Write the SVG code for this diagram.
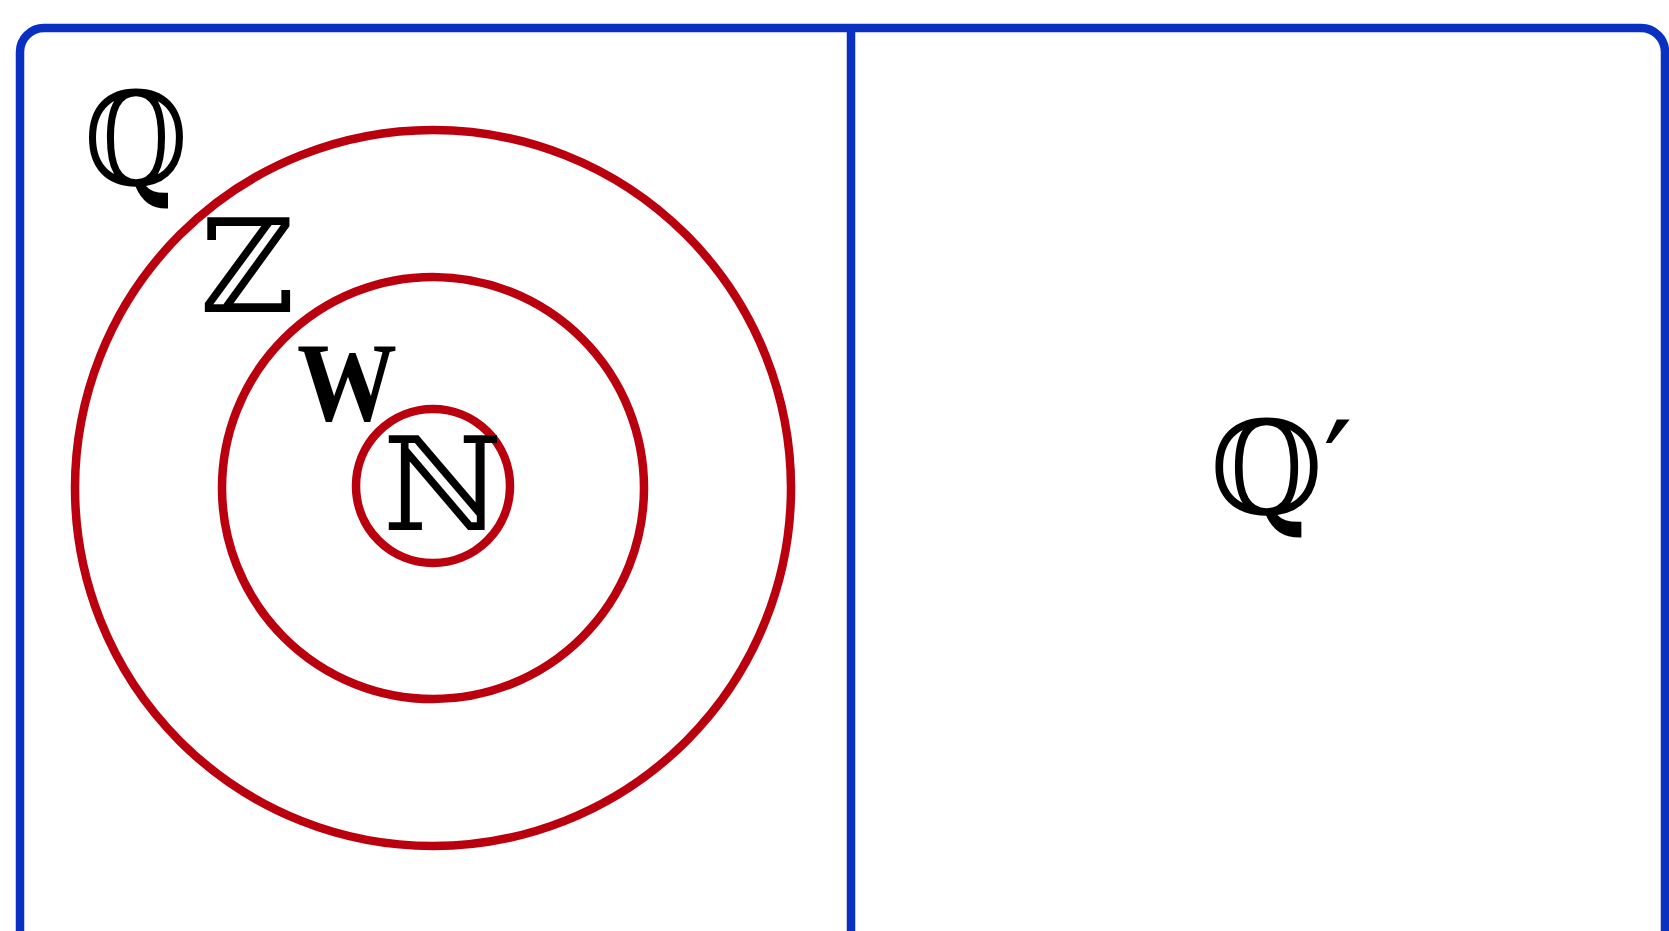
<svg xmlns="http://www.w3.org/2000/svg" width="1669" height="931" viewBox="0 0 1669 931">
<style>
.frame{fill:none;stroke:#0a30c2;stroke-width:8.5}
.ring{fill:none;stroke:#ba000e;stroke-width:8.5}
.ds{font-family:"DejaVu Serif","Liberation Serif",serif;font-size:130px;fill:#000}
.bw{font-family:"Liberation Serif",serif;font-weight:bold;font-size:112px;fill:#000}
</style>
<rect width="1669" height="931" fill="#fff"/>
<g id="frame">
<rect class="frame" x="20" y="28" width="1645" height="930" rx="24"/>
<line class="frame" x1="851" y1="28" x2="851" y2="931"/>
</g>
<g id="Q">
<circle class="ring" cx="433" cy="488" r="358"/>
<text class="ds" x="84" y="185" transform="translate(84 0) scale(0.92 1) translate(-84 0)">ℚ</text>
</g>
<g id="Z">
<circle class="ring" cx="433" cy="488" r="211"/>
<text class="ds" x="200" y="312">ℤ</text>
</g>
<g id="W">
<text class="bw" x="297" y="420" textLength="100" lengthAdjust="spacingAndGlyphs">W</text>
</g>
<g id="N">
<circle class="ring" cx="433" cy="486" r="77"/>
<text class="ds" x="383" y="530">ℕ</text>
</g>
<g id="Qprime">
<text class="ds" x="1210" y="514">ℚ′</text>
</g>
</svg>
